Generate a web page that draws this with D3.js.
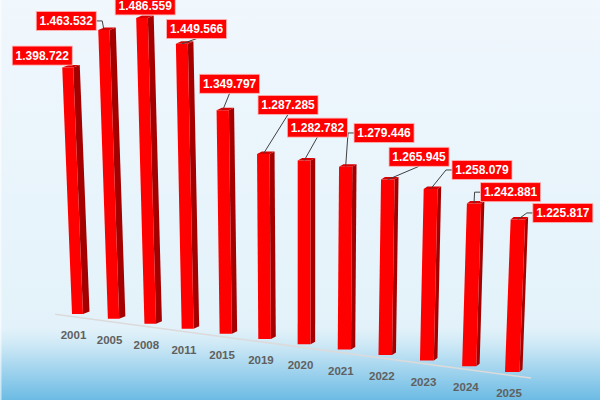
<!DOCTYPE html>
<html>
<head>
<meta charset="utf-8">
<script src="https://cdn.jsdelivr.net/npm/d3@7"></script>
<style>
  html, body { margin: 0; padding: 0; overflow: hidden; }
</style>
</head>
<body>
<div id="chart"></div>
<script>
const years = ["2001", "2005", "2008", "2011", "2015", "2019", "2020", "2021", "2022", "2023", "2024", "2025"];
const values = [1398722, 1463532, 1486559, 1449566, 1349797, 1287285, 1282782, 1279446, 1265945, 1258079, 1242881, 1225817];

// where each data label was dragged to (box centre, relative to the bar's front top-left corner)
const labelNudge = [[-20, -12], [-32, -9], [9, -12.5], [20.7, -14.7], [13, -26.5], [31, -49],
                    [19.7, -33], [45, -33.7], [38, -22.8], [58.3, -19], [43.7, -11.3], [52.2, -6.5]];

const width = 600, height = 400;
const font = "'Liberation Sans', Arial, sans-serif";
const fmt = v => d3.format(",")(v).replace(/,/g, ".");

const svg = d3.select("#chart").append("svg")
    .attr("width", width)
    .attr("height", height);

// background gradient
const grad = svg.append("defs").append("linearGradient")
    .attr("id", "bg").attr("x1", 0).attr("y1", 0).attr("x2", 0).attr("y2", 1);
grad.append("stop").attr("offset", 0).attr("stop-color", "#f0f7fd");
grad.append("stop").attr("offset", 0.82).attr("stop-color", "#e3f2fa");
grad.append("stop").attr("offset", 0.86).attr("stop-color", "#cfe9f6");
grad.append("stop").attr("offset", 1).attr("stop-color", "#6cbbe4");
svg.append("rect").attr("width", width).attr("height", height).attr("fill", "url(#bg)");
svg.append("rect").attr("width", 1.5).attr("height", height).attr("fill", "#fff").attr("opacity", 0.6);

// perspective: position along the row (0..1), slightly compressed far away
const t = d3.scaleLinear().domain([0, years.length - 1]).range([0, 1]);
const warp = u => u - 0.098 * u * (1 - u);
const baseX = d3.scaleLinear().domain([0, 1]).range([72, 505]);
const baseY = d3.scaleLinear().domain([0, 1]).range([314, 372]);
const y = d3.scaleLinear().domain([1000000, 1500000]).range([0, 309]);
const near = d3.scaleLinear().domain([0, 1]).range([1, 1.093]);   // nearer bars look taller
const frontW = d3.scaleLinear().domain([0, 1]).range([11, 14.5]);
const sideW = d3.scaleLinear().domain([0, 1]).range([6.5, 3]);
const vp = [297, 6000];   // vanishing point of the verticals
const depthY = 2.5;

function bar(i, v) {
    const u = t(i), w = warp(u);
    const bx = baseX(w), by = baseY(w);
    const hh = y(v) * near(u);
    const lean = (bx - vp[0]) * hh / (vp[1] - by);
    return { u, bx, by, tx: bx + lean, ty: by - hh, fw: frontW(u), sw: sideW(u) };
}

const bars = values.map((v, i) => Object.assign(bar(i, v), { year: years[i], value: v, i }));

// floor edge
const floorPts = [-0.48, 11.6].map(i => {
    const w = warp(t(i));
    return [baseX(w), baseY(w) + 2.5];
});
svg.append("line")
    .attr("x1", floorPts[0][0]).attr("y1", floorPts[0][1])
    .attr("x2", floorPts[1][0]).attr("y2", floorPts[1][1])
    .attr("stroke", "#dcdada").attr("stroke-width", 1.5);

// bars
const g = svg.selectAll(".bar")
    .data(bars)
    .enter().append("g")
    .attr("class", "bar");

const poly = pts => "M" + pts.map(p => p.join(",")).join("L") + "Z";

g.append("path")   // right side
    .attr("d", d => poly([[d.tx + d.fw, d.ty], [d.tx + d.fw + d.sw, d.ty - depthY],
                          [d.bx + d.fw + d.sw, d.by - depthY], [d.bx + d.fw, d.by]]))
    .attr("fill", "#a50000");
g.append("path")   // top
    .attr("d", d => poly([[d.tx, d.ty], [d.tx + d.sw, d.ty - depthY],
                          [d.tx + d.fw + d.sw, d.ty - depthY], [d.tx + d.fw, d.ty]]))
    .attr("fill", "#d80000");
g.append("path")   // front
    .attr("d", d => poly([[d.tx, d.ty], [d.tx + d.fw, d.ty], [d.bx + d.fw, d.by], [d.bx, d.by]]))
    .attr("fill", "#ff0000");

// category labels under each bar
svg.selectAll(".year")
    .data(bars)
    .enter().append("text")
    .attr("class", "year")
    .attr("x", d => d.bx + 1.5 + 2.5 * d.u)
    .attr("y", d => d.by + 25)
    .attr("text-anchor", "middle")
    .attr("font-family", font)
    .attr("font-weight", "bold")
    .attr("font-size", "11.5px")
    .attr("fill", "#606060")
    .text(d => d.year);

// data labels with leader lines
const boxW = 60, boxH = 19;
bars.forEach(d => {
    const n = labelNudge[d.i];
    d.cx = d.tx + n[0];
    d.cy = d.ty + n[1];
    const l = d.cx - boxW / 2, r = d.cx + boxW / 2, bt = d.cy + boxH / 2;
    const px = d.tx + d.fw / 2, py = d.ty;
    if (px > r + 5) d.leader = [[r, d.cy], [r + 6, d.cy], [px, py]];
    else if (px < l - 5) d.leader = [[l, d.cy], [l - 6, d.cy], [px, py]];
    else if (py - bt > 4.5) d.leader = [[d.cx, bt], [px, py]];
    else d.leader = null;
});

svg.selectAll(".leader")
    .data(bars.filter(d => d.leader))
    .enter().append("path")
    .attr("class", "leader")
    .attr("d", d => d3.line()(d.leader))
    .attr("fill", "none")
    .attr("stroke", "#404040")
    .attr("stroke-width", 1);

const lab = svg.selectAll(".label")
    .data(bars)
    .enter().append("g")
    .attr("class", "label")
    .attr("transform", d => `translate(${d.cx},${d.cy})`);

lab.append("rect")
    .attr("x", -boxW / 2).attr("y", -boxH / 2)
    .attr("width", boxW).attr("height", boxH)
    .attr("fill", "#ff0000")
    .attr("stroke", "#ffb3b3")
    .attr("stroke-width", 0.8);

lab.append("text")
    .attr("text-anchor", "middle")
    .attr("y", 4.3)
    .attr("font-family", font)
    .attr("font-weight", "bold")
    .attr("font-size", "12px")
    .attr("fill", "#fff")
    .text(d => fmt(d.value));
</script>
</body>
</html>
